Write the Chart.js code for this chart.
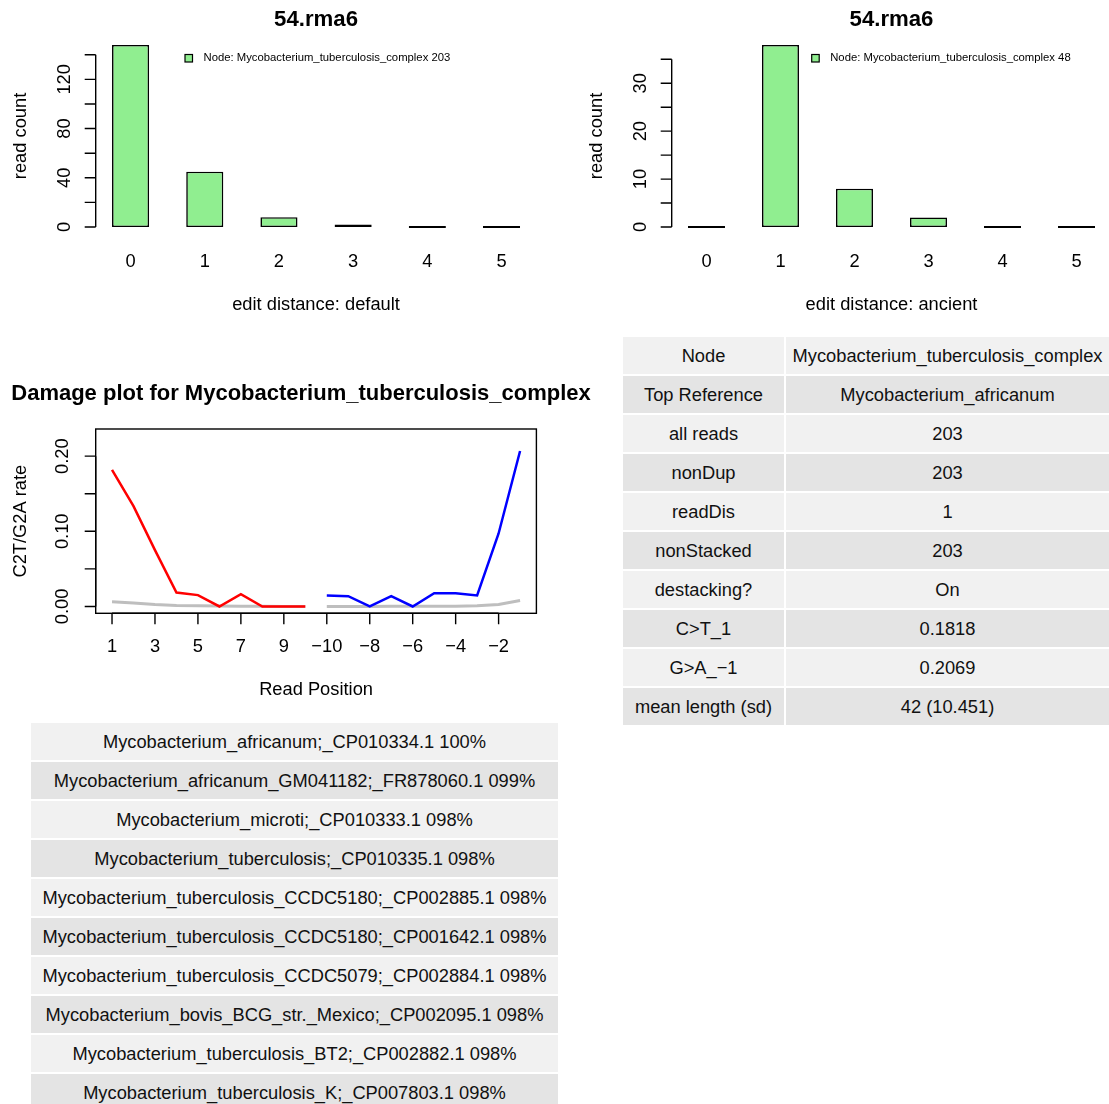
<!DOCTYPE html>
<html>
<head>
<meta charset="utf-8">
<script src="https://cdn.jsdelivr.net/npm/chart.js@4"></script>
<style>
  html, body { margin: 0; padding: 0; background: #fff; }
  body { position: relative; width: 1109px; height: 1104px; overflow: hidden; }
  canvas { position: absolute; }
  table {
    position: absolute;
    border-collapse: separate;
    border-spacing: 2px;
    table-layout: fixed;
    font: 18.3px 'Liberation Sans', Arial, Helvetica, sans-serif;
    color: #111;
  }
  td { height: 37px; padding: 0; text-align: center; white-space: nowrap; overflow: hidden; }
  tr:nth-child(odd) td { background: #f1f1f1; }
  tr:nth-child(even) td { background: #e4e4e4; }
</style>
</head>
<body>
<canvas id="default-chart" width="555" height="330" style="left:0;top:0"></canvas>
<canvas id="ancient-chart" width="580" height="330" style="left:555px;top:0"></canvas>
<canvas id="damage-chart" width="600" height="350" style="left:0;top:360px"></canvas>
<table id="info-table" style="left:621px;top:335px"></table>
<table id="ref-table" style="left:29px;top:721px"></table>
<script>
const FONT = "'Liberation Sans', Arial, Helvetica, sans-serif";
const fileName = '54.rma6';
const nodeName = 'Mycobacterium_tuberculosis_complex';

// edit distance histograms
const editDistances = [0, 1, 2, 3, 4, 5];
const defaultCounts = [148, 45, 8, 2, 0, 0];
const ancientCounts = [0, 38, 8, 2, 0, 0];
const defaultYTicks = [0, 20, 40, 60, 80, 100, 120, 140];
const defaultYLabels = [0, 40, 80, 120];
const ancientYTicks = [0, 5, 10, 15, 20, 25, 30, 35];
const ancientYLabels = [0, 10, 20, 30];

// damage plot
const readPositions = [1, 2, 3, 4, 5, 6, 7, 8, 9, 10, -10, -9, -8, -7, -6, -5, -4, -3, -2, -1];
const c2tRate = [0.1818, 0.1335, 0.0749, 0.0186, 0.0151, 0, 0.0164, 0, 0, 0];
const g2aRate = [0.0146, 0.0137, 0, 0.0137, 0, 0.0177, 0.0177, 0.0146, 0.0971, 0.2069];
const otherRate5 = [0.0062, 0.0045, 0.0025, 0.0013, 0.0008, 0.0005, 0.0003, 0.0002, 0.0001, 0.0001];
const otherRate3 = [0.0001, 0.0001, 0.0001, 0.0002, 0.0002, 0.0003, 0.0004, 0.0008, 0.0027, 0.0080];
const damageYTicks = [0, 0.05, 0.10, 0.15, 0.20];
const damageYLabels = [0, 0.10, 0.20];

// tables
const infoLabels = ['Node', 'Top Reference', 'all reads', 'nonDup', 'readDis', 'nonStacked',
  'destacking?', 'C>T_1', 'G>A_\u22121', 'mean length (sd)'];
const infoValues = ['Mycobacterium_tuberculosis_complex', 'Mycobacterium_africanum', '203', '203', '1',
  '203', 'On', '0.1818', '0.2069', '42 (10.451)'];
const topReferences = [
  'Mycobacterium_africanum;_CP010334.1 100%',
  'Mycobacterium_africanum_GM041182;_FR878060.1 099%',
  'Mycobacterium_microti;_CP010333.1 098%',
  'Mycobacterium_tuberculosis;_CP010335.1 098%',
  'Mycobacterium_tuberculosis_CCDC5180;_CP002885.1 098%',
  'Mycobacterium_tuberculosis_CCDC5180;_CP001642.1 098%',
  'Mycobacterium_tuberculosis_CCDC5079;_CP002884.1 098%',
  'Mycobacterium_bovis_BCG_str._Mexico;_CP002095.1 098%',
  'Mycobacterium_tuberculosis_BT2;_CP002882.1 098%',
  'Mycobacterium_tuberculosis_K;_CP007803.1 098%'
];

const minus = v => String(v).replace('-', '\u2212');

// R base-graphics look: axes, box, titles and legend drawn from the chart scales
const rStyle = {
  id: 'rStyle',
  afterDraw(chart, args, o) {
    const { ctx, chartArea: a, scales: { x, y } } = chart;
    const tick = 11;
    ctx.save();
    ctx.strokeStyle = '#000';
    ctx.fillStyle = '#000';
    ctx.lineWidth = 1.4;

    if (o.box) ctx.strokeRect(a.left, a.top, a.right - a.left, a.bottom - a.top);

    // y axis
    ctx.beginPath();
    ctx.moveTo(a.left, y.getPixelForValue(o.yTicks[0]));
    ctx.lineTo(a.left, y.getPixelForValue(o.yTicks[o.yTicks.length - 1]));
    o.yTicks.forEach(v => {
      const p = y.getPixelForValue(v);
      ctx.moveTo(a.left, p);
      ctx.lineTo(a.left - tick, p);
    });
    // x axis
    if (o.xAxis) {
      ctx.moveTo(x.getPixelForValue(o.xTicks[0]), a.bottom);
      ctx.lineTo(x.getPixelForValue(o.xTicks[o.xTicks.length - 1]), a.bottom);
      o.xTicks.forEach(v => {
        const p = x.getPixelForValue(v);
        ctx.moveTo(p, a.bottom);
        ctx.lineTo(p, a.bottom + tick);
      });
    }
    ctx.stroke();

    ctx.font = '18.3px ' + FONT;
    ctx.textAlign = 'center';
    ctx.textBaseline = 'middle';
    o.yLabels.forEach(v => {
      ctx.save();
      ctx.translate(a.left - o.yLabelGap, y.getPixelForValue(v));
      ctx.rotate(-Math.PI / 2);
      ctx.fillText(o.yFormat(v), 0, 0);
      ctx.restore();
    });
    o.xTicks.forEach((v, i) => ctx.fillText(o.xLabels[i], x.getPixelForValue(v), o.xLabelY));

    const midX = (a.left + a.right) / 2;
    ctx.fillText(o.xTitle, midX, o.xTitleY);
    ctx.save();
    ctx.translate(a.left - o.yTitleGap, (a.top + a.bottom) / 2);
    ctx.rotate(-Math.PI / 2);
    ctx.fillText(o.yTitle, 0, 0);
    ctx.restore();

    ctx.font = 'bold ' + o.titleSize + 'px ' + FONT;
    ctx.fillText(o.title, o.titleX !== undefined ? o.titleX : midX, o.titleY);

    if (o.legend) {
      const l = o.legend;
      ctx.fillStyle = '#90ee90';
      ctx.fillRect(l.x, l.y, 7.5, 7.5);
      ctx.lineWidth = 1.2;
      ctx.strokeRect(l.x, l.y, 7.5, 7.5);
      ctx.fillStyle = '#000';
      ctx.font = '11.3px ' + FONT;
      ctx.textAlign = 'left';
      ctx.fillText(l.text, l.x + 18.5, l.y + 3.8);
    }
    ctx.restore();
  }
};

function barChart(canvasId, counts, yTicks, yLabels, yMax, xLabelTitle, padding, legendX) {
  const centers = editDistances.map((d, i) => 1.5 + 2 * i);
  const total = counts.reduce((s, v) => s + v, 0);
  return new Chart(document.getElementById(canvasId), {
    type: 'bar',
    data: {
      datasets: [{
        data: counts.map((v, i) => ({ x: centers[i], y: v })),
        backgroundColor: '#90ee90',
        borderColor: '#000',
        borderWidth: 1.6,
        borderSkipped: false,
        minBarLength: 2,
        categoryPercentage: 1,
        barPercentage: 0.5
      }]
    },
    options: {
      responsive: false,
      animation: false,
      devicePixelRatio: 1,
      layout: { padding: padding },
      plugins: {
        legend: { display: false },
        title: { display: false },
        tooltip: { enabled: false },
        rStyle: {
          title: fileName,
          titleSize: 22.2,
          titleY: 20,
          yTicks: yTicks,
          yLabels: yLabels,
          yFormat: v => String(v),
          yLabelGap: 31,
          yTitle: 'read count',
          yTitleGap: 75,
          xAxis: false,
          xTicks: centers,
          xLabels: editDistances.map(String),
          xLabelY: 262,
          xTitle: xLabelTitle,
          xTitleY: 305,
          legend: { x: legendX, y: 54.5, text: 'Node: ' + nodeName + ' ' + total }
        }
      },
      scales: {
        x: {
          type: 'linear', display: false, offset: false, min: 0.56, max: 12.44,
          afterBuildTicks: s => { s.ticks = centers.map(v => ({ value: v })); }
        },
        y: { display: false, min: -0.04 * yMax, max: 1.04 * yMax }
      }
    },
    plugins: [rStyle]
  });
}

barChart('default-chart', defaultCounts, defaultYTicks, defaultYLabels, 148,
  'edit distance: default', { left: 95.7, right: 18.6, top: 37.6, bottom: 95.7 }, 185);
barChart('ancient-chart', ancientCounts, ancientYTicks, ancientYLabels, 38,
  'edit distance: ancient', { left: 116.7, right: 23.7, top: 37.6, bottom: 95.7 }, 256.7);

// damage plot
const idx5 = c2tRate.map((v, i) => i + 1);
const idx3 = g2aRate.map((v, i) => i + 11);
const damageXTicks = readPositions.map((p, i) => i + 1).filter(i => i % 2 === 1);
const lineSet = (xs, ys, color, width, order) => ({
  data: ys.map((v, i) => ({ x: xs[i], y: v })),
  borderColor: color,
  borderWidth: width,
  pointRadius: 0,
  tension: 0,
  fill: false,
  order: order
});

new Chart(document.getElementById('damage-chart'), {
  type: 'line',
  data: {
    datasets: [
      lineSet(idx5, c2tRate, '#ff0000', 2.5, 1),
      lineSet(idx3, g2aRate, '#0000ff', 2.5, 1),
      lineSet(idx5, otherRate5, '#bebebe', 3, 2),
      lineSet(idx3, otherRate3, '#bebebe', 3, 2)
    ]
  },
  options: {
    responsive: false,
    animation: false,
    devicePixelRatio: 1,
    layout: { padding: { left: 95.7, right: 63.6, top: 69, bottom: 96.7 } },
    plugins: {
      legend: { display: false },
      title: { display: false },
      tooltip: { enabled: false },
      rStyle: {
        box: true,
        title: 'Damage plot for ' + nodeName,
        titleSize: 22,
        titleX: 301,
        titleY: 34,
        yTicks: damageYTicks,
        yLabels: damageYLabels,
        yFormat: v => v.toFixed(2),
        yLabelGap: 33,
        yTitle: 'C2T/G2A rate',
        yTitleGap: 75,
        xAxis: true,
        xTicks: damageXTicks,
        xLabels: damageXTicks.map(i => minus(readPositions[i - 1])),
        xLabelY: 287,
        xTitle: 'Read Position',
        xTitleY: 330
      }
    },
    scales: {
      x: { type: 'linear', display: false, min: 0.24, max: 20.76 },
      y: { display: false, min: -0.0091, max: 0.2361 }
    }
  },
  plugins: [rStyle]
});

// tables
function fillTable(table, rows, widths) {
  const cols = document.createElement('colgroup');
  widths.forEach(w => {
    const col = document.createElement('col');
    col.style.width = w + 'px';
    cols.appendChild(col);
  });
  table.appendChild(cols);
  table.style.width = (widths.reduce((s, w) => s + w, 0) + 2 * (widths.length + 1)) + 'px';
  rows.forEach(cells => {
    const row = table.insertRow();
    cells.forEach(text => { row.insertCell().textContent = text; });
  });
}
fillTable(document.getElementById('info-table'), infoLabels.map((l, i) => [l, infoValues[i]]), [161, 323]);
fillTable(document.getElementById('ref-table'), topReferences.map(r => [r]), [527]);
</script>
</body>
</html>
